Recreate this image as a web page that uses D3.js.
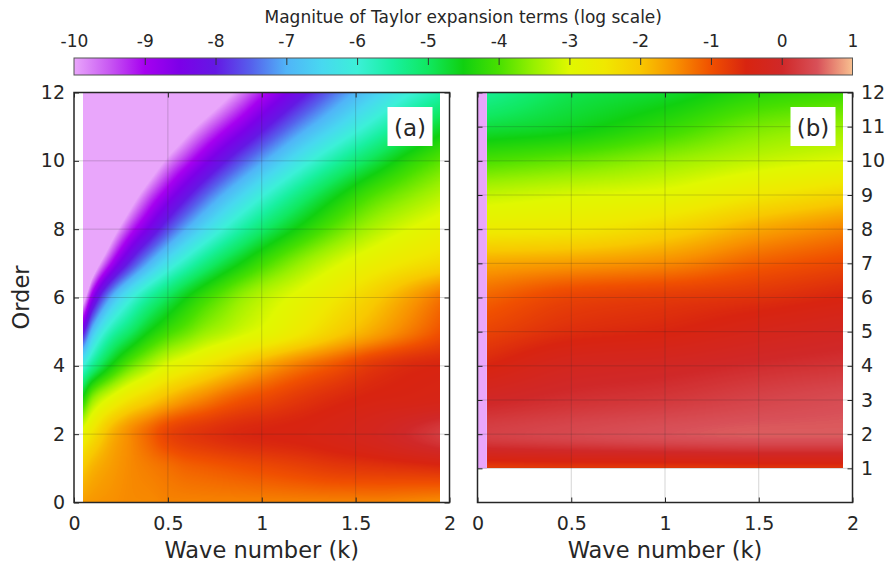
<!DOCTYPE html>
<html>
<head>
<meta charset="utf-8">
<script src="https://cdn.jsdelivr.net/npm/d3@7"></script>
<style>
  body { margin: 0; background: #fff; }
  text { font-family: "DejaVu Sans", sans-serif; fill: #262626; }
</style>
</head>
<body>
<svg id="chart" width="887" height="567"></svg>
<script>
// ---- data (log10 of term magnitude) ----
// panel (a): rows = order 0..12, columns = wave number
// (values below -10 lie in the clipped pink area and are estimates)
const ordersA = [0, 1, 2, 3, 4, 5, 6, 7, 8, 9, 10, 11, 12];
const waveA = [0.05, 0.1, 0.2, 0.3, 0.4, 0.5, 0.6, 0.7, 0.8, 0.9, 1.0, 1.2, 1.4, 1.6, 1.8, 1.95];
const valuesA = [
  [-1.6, -1.55, -1.5, -1.45, -1.45, -1.4, -1.4, -1.4, -1.4, -1.4, -1.4, -1.4, -1.4, -1.4, -1.45, -1.5],
  [-2.0, -1.8, -1.6, -1.45, -1.35, -1.25, -1.15, -1.1, -1.05, -1.0, -0.95, -0.85, -0.75, -0.7, -0.65, -0.6],
  [-2.8, -2.4, -1.8, -1.45, -1.15, -0.85, -0.72, -0.65, -0.58, -0.53, -0.5, -0.45, -0.35, -0.2, 0.05, 0.25],
  [-4.3, -3.5, -2.85, -2.4, -2.1, -1.8, -1.55, -1.35, -1.15, -1.0, -0.9, -0.7, -0.55, -0.45, -0.4, -0.35],
  [-6.0, -5.35, -4.45, -3.8, -3.35, -2.95, -2.7, -2.45, -2.2, -1.95, -1.7, -1.3, -1.0, -0.7, -0.55, -0.5],
  [-8.1, -6.8, -5.65, -5.05, -4.5, -4.1, -3.8, -3.5, -3.3, -3.1, -2.95, -2.55, -2.1, -1.7, -1.3, -1.0],
  [-10.45, -8.65, -7.0, -6.1, -5.45, -4.95, -4.5, -4.12, -3.8, -3.5, -3.27, -2.9, -2.5, -2.08, -1.62, -1.28],
  [-13.2, -10.9, -9.0, -7.85, -7.0, -6.3, -5.75, -5.25, -4.82, -4.45, -4.1, -3.52, -3.06, -2.7, -2.42, -2.25],
  [-15.35, -12.95, -10.55, -9.25, -8.4, -7.65, -7.0, -6.45, -5.95, -5.5, -5.1, -4.42, -3.82, -3.33, -2.98, -2.78],
  [-17.55, -14.85, -12.15, -10.55, -9.5, -8.75, -8.1, -7.5, -6.97, -6.5, -6.05, -5.25, -4.55, -3.97, -3.57, -3.3],
  [-19.85, -16.85, -13.8, -12.05, -10.8, -9.85, -9.2, -8.6, -8.05, -7.55, -7.1, -6.25, -5.5, -4.85, -4.25, -3.9],
  [-22.2, -18.9, -15.55, -13.6, -12.25, -11.2, -10.35, -9.7, -9.15, -8.65, -8.15, -7.25, -6.5, -5.8, -5.15, -4.7],
  [-24.8, -21.2, -17.5, -15.4, -13.9, -12.75, -11.8, -11.0, -10.3, -9.7, -9.15, -8.2, -7.35, -6.65, -6.0, -5.6]
];

// panel (b): rows = order 1..12
const ordersB = [1, 2, 3, 4, 5, 6, 7, 8, 9, 10, 11, 12];
const waveB = [0.05, 0.5, 1.0, 1.5, 1.95];
const valuesB = [
  [-0.8, -0.75, -0.75, -0.7, -0.7],
  [0.3, 0.4, 0.5, 0.55, 0.55],
  [-0.05, 0.1, 0.2, 0.35, 0.45],
  [-0.5, -0.2, -0.1, 0.05, 0.15],
  [-0.85, -0.6, -0.5, -0.3, -0.15],
  [-1.15, -0.85, -0.75, -0.65, -0.5],
  [-1.7, -1.6, -1.45, -1.1, -0.9],
  [-2.6, -2.5, -2.2, -1.7, -1.4],
  [-3.2, -3.05, -2.9, -2.5, -2.2],
  [-4.0, -3.8, -3.5, -3.2, -3.0],
  [-4.8, -4.6, -4.2, -3.7, -3.5],
  [-5.4, -4.9, -4.7, -4.3, -4.1]
];
// k = 0 column of (b): log10(0), below the colour range
const waveB0 = 0;

// colour bar
const cbTicks = [-10, -9, -8, -7, -6, -5, -4, -3, -2, -1, 0, 1];
const cmapStops = [-10, -9.5, -9, -8.5, -8, -7.5, -7, -6.5, -6, -5.5, -5, -4.5, -4, -3.5, -3, -2.5, -2, -1.5, -1, -0.5, 0, 0.5, 1];
const cmapColors = ["#e9a6fb", "#c858f2", "#a600f0", "#7c00e8", "#6418e4", "#5660ec", "#50b4f8", "#48d8f0",
  "#3cf0d8", "#18f0a0", "#10e860", "#10d010", "#48e000", "#98f000", "#e0f800", "#f0e800", "#f8c800",
  "#f89000", "#f05000", "#d82410", "#d02828", "#d85058", "#f8c090"];

const ticksA = [0, 2, 4, 6, 8, 10, 12];
const ticksB = [1, 2, 3, 4, 5, 6, 7, 8, 9, 10, 11, 12];
const ticksX = [0, 0.5, 1, 1.5, 2];

// ---- layout ----
const svg = d3.select("#chart");
const xA = d3.scaleLinear().domain([0, 2]).range([74, 449.5]);
const xB = d3.scaleLinear().domain([0, 2]).range([477.5, 852.5]);
const y = d3.scaleLinear().domain([0, 12]).range([502.5, 92.5]);
const cbX = d3.scaleLinear().domain([-10, 1]).range([74, 852.5]);
const cmap = d3.scaleLinear().domain(cmapStops).range(cmapColors).clamp(true);

// lookup table for fast pixel colouring
const lut = d3.range(0, 1101).map(i => d3.rgb(cmap(-10 + i / 100)));
function colourOf(v) {
  let i = Math.round((v + 10) * 100);
  if (!(i > 0)) i = 0;
  if (i > 1100) i = 1100;
  return lut[i];
}

// monotone cubic slopes (Fritsch-Butland) for smooth shading between nodes
function slopes(xs, vs) {
  const n = xs.length, d = [], m = [];
  for (let i = 0; i < n - 1; i++) d.push((vs[i + 1] - vs[i]) / (xs[i + 1] - xs[i]));
  m[0] = d[0]; m[n - 1] = d[n - 2];
  for (let i = 1; i < n - 1; i++) {
    if (d[i - 1] * d[i] <= 0) { m[i] = 0; continue; }
    const h0 = xs[i] - xs[i - 1], h1 = xs[i + 1] - xs[i];
    m[i] = 3 * (h0 + h1) / ((2 * h1 + h0) / d[i - 1] + (h1 + 2 * h0) / d[i]);
  }
  return m;
}
function hermite(xs, vs, ms, x) {
  let i = 0;
  while (i < xs.length - 2 && x > xs[i + 1]) i++;
  const h = xs[i + 1] - xs[i];
  const t = Math.max(0, Math.min(1, (x - xs[i]) / h));
  const t2 = t * t, t3 = t2 * t;
  return (2 * t3 - 3 * t2 + 1) * vs[i] + (t3 - 2 * t2 + t) * h * ms[i]
       + (-2 * t3 + 3 * t2) * vs[i + 1] + (t3 - t2) * h * ms[i + 1];
}

// draw a grid of values with interpolated shading
function drawHeat(g, xs, ks, ns, vals) {
  const x0 = Math.round(xs(ks[0])), x1 = Math.round(xs(ks[ks.length - 1]));
  const y0 = Math.round(y(ns[ns.length - 1])), y1 = Math.round(y(ns[0]));
  const w = x1 - x0, h = y1 - y0;
  const canvas = document.createElement("canvas");
  canvas.width = w; canvas.height = h;
  const ctx = canvas.getContext("2d");
  const img = ctx.createImageData(w, h);
  const rowSlopes = vals.map(r => slopes(ks, r));
  for (let px = 0; px < w; px++) {
    const k = xs.invert(x0 + px + 0.5);
    const col = vals.map((r, j) => hermite(ks, r, rowSlopes[j], k));
    const colSlopes = slopes(ns, col);
    for (let py = 0; py < h; py++) {
      const v = hermite(ns, col, colSlopes, y.invert(y0 + py + 0.5));
      const c = colourOf(v);
      const o = (py * w + px) * 4;
      img.data[o] = c.r; img.data[o + 1] = c.g; img.data[o + 2] = c.b; img.data[o + 3] = 255;
    }
  }
  ctx.putImageData(img, 0, 0);
  g.append("image")
    .attr("x", x0).attr("y", y0)
    .attr("width", w).attr("height", h)
    .attr("preserveAspectRatio", "none")
    .attr("href", canvas.toDataURL());
}

function drawGrid(g, xs, yTicks) {
  g.selectAll(".gx").data([0.5, 1, 1.5]).enter().append("line")
    .attr("x1", d => xs(d)).attr("x2", d => xs(d))
    .attr("y1", y(0)).attr("y2", y(12))
    .attr("stroke", "#262626").attr("stroke-opacity", 0.2);
  g.selectAll(".gy").data(yTicks.filter(d => d > 0 && d < 12)).enter().append("line")
    .attr("x1", xs(0)).attr("x2", xs(2))
    .attr("y1", d => y(d)).attr("y2", d => y(d))
    .attr("stroke", "#262626").attr("stroke-opacity", 0.2);
}

function styleAxis(sel, labels) {
  sel.select(".domain").remove();
  sel.selectAll(".tick line").attr("stroke", "#262626").attr("stroke-width", 1);
  sel.selectAll(".tick text").style("font-size", "19px").attr("fill", "#262626");
  if (!labels) sel.selectAll(".tick text").remove();
}

function drawFrame(g, xs, yTicks, yLabelSide) {
  const yb = g.append("g").attr("transform", `translate(0,${y(0)})`)
    .call(d3.axisBottom(xs).tickValues(ticksX).tickSize(-5).tickPadding(14).tickFormat(d3.format("")));
  styleAxis(yb, true);
  const yt = g.append("g").attr("transform", `translate(0,${y(12)})`)
    .call(d3.axisTop(xs).tickValues(ticksX).tickSize(-5));
  styleAxis(yt, false);
  const yl = g.append("g").attr("transform", `translate(${xs(0)},0)`)
    .call(d3.axisLeft(y).tickValues(yTicks).tickSize(-5).tickPadding(9));
  styleAxis(yl, yLabelSide === "left");
  const yr = g.append("g").attr("transform", `translate(${xs(2)},0)`)
    .call(d3.axisRight(y).tickValues(yTicks).tickSize(-5).tickPadding(8.5));
  styleAxis(yr, yLabelSide === "right");
  g.append("rect")
    .attr("x", xs(0)).attr("y", y(12))
    .attr("width", xs(2) - xs(0)).attr("height", y(0) - y(12))
    .attr("fill", "none").attr("stroke", "#262626").attr("stroke-width", 1.5);
  g.append("text")
    .attr("x", (xs(0) + xs(2)) / 2).attr("y", 558)
    .attr("text-anchor", "middle").style("font-size", "22.5px")
    .text("Wave number (k)");
}

function drawTag(g, xs, label) {
  const right = xs(2) - 17;
  g.append("rect").attr("x", right - 45).attr("y", 107).attr("width", 45).attr("height", 39).attr("fill", "#fff");
  g.append("text").attr("x", right - 22.5).attr("y", 136)
    .attr("text-anchor", "middle").style("font-size", "23px").text(label);
}

// ---- panel (a) ----
const gA = svg.append("g");
drawHeat(gA, xA, waveA, ordersA, valuesA);
drawGrid(gA, xA, ticksA);
drawTag(gA, xA, "(a)");
drawFrame(gA, xA, ticksA, "left");
gA.append("text")
  .attr("transform", `translate(29,${(y(0) + y(12)) / 2}) rotate(-90)`)
  .attr("text-anchor", "middle").style("font-size", "22.5px")
  .text("Order");

// ---- panel (b) ----
const gB = svg.append("g");
gB.append("rect")
  .attr("x", xB(waveB0)).attr("y", y(12))
  .attr("width", xB(waveB[0]) - xB(waveB0)).attr("height", y(1) - y(12))
  .attr("fill", cmap(cbTicks[0]));
drawHeat(gB, xB, waveB, ordersB, valuesB);
drawGrid(gB, xB, ticksB);
drawTag(gB, xB, "(b)");
drawFrame(gB, xB, ticksB, "right");

// ---- colour bar ----
const defs = svg.append("defs");
const grad = defs.append("linearGradient").attr("id", "cbGrad")
  .attr("x1", "0%").attr("x2", "100%").attr("y1", "0%").attr("y2", "0%");
grad.selectAll("stop").data(cmapStops).enter().append("stop")
  .attr("offset", d => ((d - cmapStops[0]) / (cmapStops[cmapStops.length - 1] - cmapStops[0]) * 100) + "%")
  .attr("stop-color", (d, i) => cmapColors[i]);

const cbTop = 58, cbH = 17;
svg.append("rect")
  .attr("x", cbX(-10)).attr("y", cbTop)
  .attr("width", cbX(1) - cbX(-10)).attr("height", cbH)
  .attr("fill", "url(#cbGrad)").attr("stroke", "#555").attr("stroke-width", 1);
const cbAxis = svg.append("g").attr("transform", `translate(0,${cbTop})`)
  .call(d3.axisTop(cbX).tickValues(cbTicks).tickSize(-7).tickPadding(11).tickFormat(d3.format("")));
cbAxis.select(".domain").remove();
cbAxis.selectAll(".tick line").attr("stroke", "#333").attr("stroke-width", 1)
  .filter(d => d === -10 || d === 1).remove();
cbAxis.selectAll(".tick text").style("font-size", "17px").attr("fill", "#262626")
  .text(d => d < 0 ? "-" + Math.abs(d) : d);
svg.append("text")
  .attr("x", (cbX(-10) + cbX(1)) / 2).attr("y", 22.5)
  .attr("text-anchor", "middle").style("font-size", "17px")
  .text("Magnitue of Taylor expansion terms (log scale)");
</script>
</body>
</html>
